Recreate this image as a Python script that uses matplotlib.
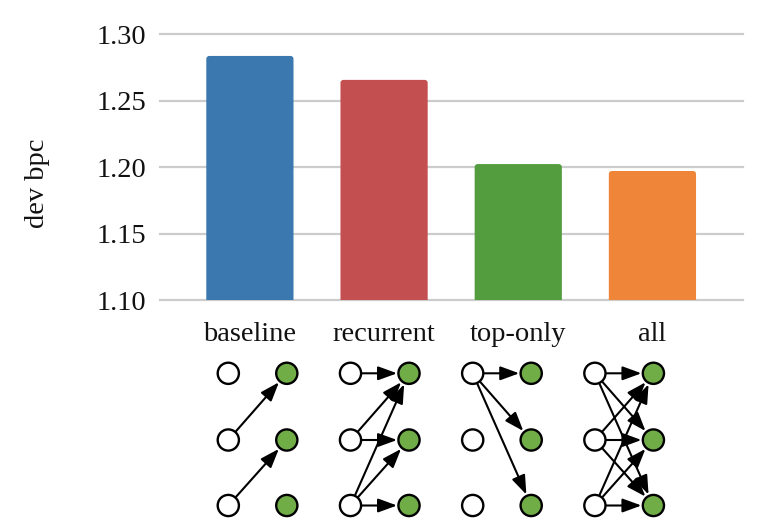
import matplotlib
matplotlib.use("Agg")
import matplotlib.pyplot as plt
from matplotlib.patches import Circle, FancyArrowPatch, FancyBboxPatch

# bar chart data
categories = ["baseline", "recurrent", "top-only", "all"]
dev_bpc = [1.2835, 1.2655, 1.2022, 1.1970]
bar_colors = ["#3b78b0", "#c44f50", "#539d3e", "#ef8539"]
yticks = [1.10, 1.15, 1.20, 1.25, 1.30]

# connection diagrams: (left row, right row), row 0 = top
edges = {
    "baseline": [(1, 0), (2, 1)],
    "recurrent": [(0, 0), (1, 0), (1, 1), (2, 0), (2, 1), (2, 2)],
    "top-only": [(0, 0), (0, 1), (0, 2)],
    "all": [(i, j) for i in range(3) for j in range(3)],
}

plt.rcParams["font.family"] = ["Liberation Serif", "DejaVu Serif"]

W, H = 761, 523
fig = plt.figure(figsize=(W / 100, H / 100), dpi=100)

# main axes, placed in pixel terms
left, right, top, bottom = 160, 743, 34, 300
ax = fig.add_axes([left / W, 1 - bottom / H, (right - left) / W, (bottom - top) / H])
ax.set_xlim(-0.67, 3.675)
ax.set_ylim(1.10, 1.30)

x = list(range(len(categories)))
bars = ax.bar(x, [v - 1.09 for v in dev_bpc], bottom=1.09, width=0.65,
              color=bar_colors, zorder=2)
# swap the plain rectangles for slightly rounded ones
xpp = (3.675 + 0.67) / (right - left)
ypp = 0.2 / (bottom - top)
for rect in bars.patches:
    rb = FancyBboxPatch((rect.get_x(), rect.get_y()), rect.get_width(), rect.get_height(),
                        boxstyle=f"round,pad=0,rounding_size={3 * xpp}",
                        mutation_aspect=ypp / xpp,
                        facecolor=rect.get_facecolor(), edgecolor="none", zorder=2)
    ax.add_patch(rb)
    rect.remove()

for yv in yticks:
    ax.axhline(yv, color="#cccccc", lw=1.6, zorder=1, clip_on=False)

ax.set_yticks(yticks)
ax.set_yticklabels([f"{v:.2f}" for v in yticks])
ax.set_xticks(x)
ax.set_xticklabels(categories)
ax.tick_params(axis="y", length=0, pad=10, labelsize=20.5, colors="#111111")
ax.tick_params(axis="x", length=0, pad=16, labelsize=20.5, colors="#111111")
for s in ax.spines.values():
    s.set_visible(False)

fig.text(37 / W, 1 - 183 / H, "dev bpc", rotation=90, fontsize=20.5,
         ha="center", va="center", color="#111111")

# overlay axes in pixel coordinates for the diagrams
ov = fig.add_axes([0, 0, 1, 1])
ov.set_xlim(0, W)
ov.set_ylim(H, 0)
ov.axis("off")

x0, dx, gap = 228.3, 122.2, 58.5
rows_y = [373.3, 440, 505.5]
r = 10.6
for k, name in enumerate(categories):
    lx = x0 + k * dx
    rx = lx + gap
    for i, j in edges[name]:
        arr = FancyArrowPatch((lx, rows_y[i]), (rx, rows_y[j]),
                              arrowstyle="-|>,head_length=1.15,head_width=0.42",
                              mutation_scale=10, lw=1.5, color="black",
                              shrinkA=8.3, shrinkB=8.6, zorder=3)
        ov.add_patch(arr)
    for yy in rows_y:
        ov.add_patch(Circle((lx, yy), r, facecolor="white", edgecolor="black",
                            lw=1.7, zorder=4))
        ov.add_patch(Circle((rx, yy), r, facecolor="#70ad47", edgecolor="black",
                            lw=1.7, zorder=4))

fig.savefig("out.png", dpi=100)
